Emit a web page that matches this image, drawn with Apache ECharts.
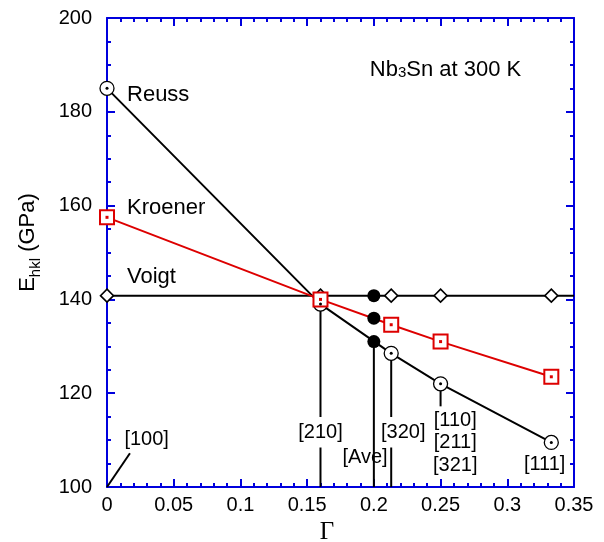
<!DOCTYPE html>
<html>
<head>
<meta charset="utf-8">
<script src="https://cdn.jsdelivr.net/npm/echarts@6/dist/echarts.min.js"></script>
<style>
  html, body { margin: 0; padding: 0; background: #fff; }
  #chart { width: 604px; height: 542px; }
</style>
</head>
<body>
<div id="chart"></div>
<script>
"use strict";
// Γ values of the reflections and the moduli
const gamma = [0, 0.16, 0.213, 0.25, 0.333];
const reussE = [185, 139, 128.5, 122, 109.5];
const kroenerE = [157.5, 140, 134.6, 131, 123.5];
const voigtE = [140.8, 140.8, 140.8, 140.8, 140.8];
const aveG = [0.2, 0.2, 0.2];
const aveE = [140.8, 136, 131];
// drop lines linking a point to its [hkl] label
const dropLines = [
    [[0.16, 139], [0.16, 100]],
    [[0.2, 131], [0.2, 100]],
    [[0.213, 128.5], [0.213, 100]],
    [[0.25, 122], [0.25, 117.2]],
    [[0, 100], [0.0172, 107.2]]
];
const xTicks = { min: 0, max: 0.35, interval: 0.05 };
const yTicks = { min: 100, max: 200, interval: 20 };

const blue = '#0000dd';
const red = '#dd0000';
const font = 'Liberation Sans, Arial, sans-serif';

const chart = echarts.init(document.getElementById('chart'));

function pairs(xs, ys) {
    return xs.map((x, i) => [x, ys[i]]);
}

function axisBase(extra) {
    return Object.assign({
        type: 'value',
        axisLine: { show: true, onZero: false, lineStyle: { color: blue, width: 2 } },
        axisTick: { show: true, inside: true, length: 8, lineStyle: { color: blue, width: 2 } },
        splitLine: { show: false },
        minorSplitLine: { show: false }
    }, extra);
}

function minor(n) {
    return { show: true, splitNumber: n, length: 4, lineStyle: { color: blue, width: 2 } };
}

const sub = { fontSize: 15, fontFamily: font, color: '#000', verticalAlign: 'bottom', padding: [15, 0, 0, 0] };

// label anchors (data coords) for the texts on the plot
const notes = [
    { value: [0.015, 183.6], text: 'Reuss', align: 'left', size: 22 },
    { value: [0.015, 159.5], text: 'Kroener', align: 'left', size: 22 },
    { value: [0.015, 144.7], text: 'Voigt', align: 'left', size: 22 },
    { value: [0.197, 189.0], text: '{n|Nb}{s|3}{n|Sn at 300 K}', align: 'left', size: 22 },
    { value: [0.0297, 110.2], text: '[100]', align: 'center', size: 20 },
    { value: [0.16, 111.7], text: '[210]', align: 'center', size: 20, bg: true },
    { value: [0.1934, 106.2], text: '[Ave]', align: 'center', size: 20 },
    { value: [0.222, 111.7], text: '[320]', align: 'center', size: 20, bg: true },
    { value: [0.261, 109.4], text: '[110]\n[211]\n[321]', align: 'center', size: 20 },
    { value: [0.328, 104.7], text: '[111]', align: 'center', size: 20 }
];

const option = {
    animation: false,
    backgroundColor: '#fff',
    grid: { left: 107, right: 30, top: 18, bottom: 55, outerBoundsMode: 'none', containLabel: false },
    xAxis: [
        axisBase(Object.assign({}, xTicks, {
            position: 'bottom',
            minorTick: minor(5),
            axisLabel: { color: '#000', fontSize: 20, fontFamily: font, margin: 8 },
            name: 'Γ',
            nameLocation: 'middle',
            nameGap: 33,
            nameTextStyle: {
                color: '#000', fontSize: 25,
                fontFamily: 'Liberation Serif, Times New Roman, serif',
                padding: [0, 27, 0, 0]
            }
        })),
        axisBase(Object.assign({}, xTicks, {
            position: 'top',
            minorTick: minor(5),
            axisLabel: { show: false }
        }))
    ],
    yAxis: [
        axisBase(Object.assign({}, yTicks, {
            position: 'left',
            minorTick: minor(4),
            axisLabel: { color: '#000', fontSize: 20, fontFamily: font, margin: 15 },
            name: '{n|E}{s|hkl}{n| (GPa)}',
            nameLocation: 'middle',
            nameRotate: 90,
            nameGap: 64,
            nameTextStyle: {
                padding: [0, 0, 0, 20],
                rich: {
                    n: { fontSize: 22, fontFamily: font, color: '#000' },
                    s: sub
                }
            }
        })),
        axisBase(Object.assign({}, yTicks, {
            position: 'right',
            minorTick: minor(4),
            axisLabel: { show: false }
        }))
    ],
    series: [
        // drop lines
        ...dropLines.map(seg => ({
            type: 'line',
            data: seg,
            showSymbol: false,
            symbol: 'none',
            lineStyle: { color: '#000', width: 2 },
            z: 1,
            silent: true
        })),
        {
            name: 'Voigt',
            type: 'line',
            data: pairs(gamma, voigtE).map(p => ({ value: p }))
                .concat([{ value: [xTicks.max, voigtE[0]], symbol: 'none' }]),
            symbol: 'diamond',
            symbolSize: 13,
            lineStyle: { color: '#000', width: 2 },
            itemStyle: { color: '#fff', borderColor: '#000', borderWidth: 1.6 },
            z: 3
        },
        {
            name: 'Reuss',
            type: 'line',
            data: pairs(gamma, reussE),
            symbol: 'circle',
            symbolSize: 14,
            lineStyle: { color: '#000', width: 2 },
            itemStyle: { color: '#fff', borderColor: '#000', borderWidth: 1.3 },
            z: 4
        },
        {
            name: 'Kroener',
            type: 'line',
            data: pairs(gamma, kroenerE),
            symbol: 'rect',
            symbolSize: 14,
            lineStyle: { color: red, width: 2 },
            itemStyle: { color: '#fff', borderColor: red, borderWidth: 2 },
            z: 5
        },
        {
            type: 'scatter',
            data: pairs(gamma, reussE),
            symbol: 'circle',
            symbolSize: 3,
            itemStyle: { color: '#000', opacity: 1 },
            z: 6
        },
        {
            type: 'scatter',
            data: pairs(gamma, kroenerE),
            symbol: 'rect',
            symbolSize: 3,
            itemStyle: { color: red, opacity: 1 },
            z: 6
        },
        {
            name: 'Ave',
            type: 'scatter',
            data: pairs(aveG, aveE),
            symbol: 'circle',
            symbolSize: 13,
            itemStyle: { color: '#000', opacity: 1 },
            z: 6
        },
        {
            type: 'scatter',
            symbolSize: 0,
            silent: true,
            z: 7,
            itemStyle: { opacity: 1 },
            data: notes.map(n => ({
                value: n.value,
                label: {
                    show: true,
                    position: 'inside',
                    formatter: n.text,
                    align: n.align,
                    verticalAlign: 'middle',
                    color: '#000',
                    fontSize: n.size,
                    lineHeight: 22.5,
                    fontFamily: font,
                    backgroundColor: n.bg ? '#fff' : 'transparent',
                    padding: n.bg ? [4, 1, 4, 1] : 0,
                    rich: {
                        n: { fontSize: n.size, fontFamily: font, color: '#000' },
                        s: sub
                    }
                }
            }))
        }
    ]
};
chart.setOption(option);
</script>
</body>
</html>
